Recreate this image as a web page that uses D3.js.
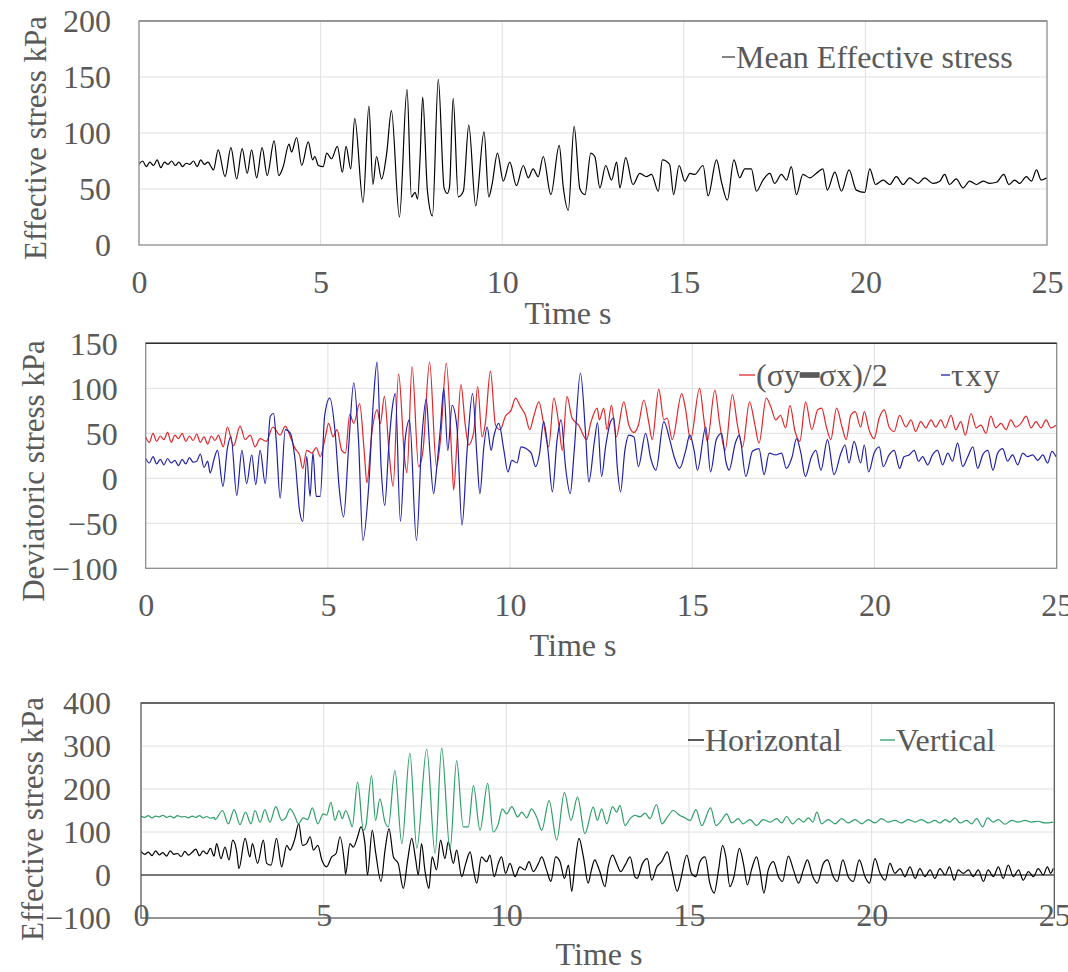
<!DOCTYPE html>
<html>
<head>
<meta charset="utf-8">
<script src="https://cdn.jsdelivr.net/npm/d3@7"></script>
<style>
  html, body { margin: 0; padding: 0; background: #fff; }
  svg { display: block; }
</style>
</head>
<body>
<svg id="chart" width="1068" height="972"></svg>
<script>
// ---- Data: time (s) / stress (kPa) pairs ----
const timeTicks = [0, 5, 10, 15, 20, 25];

const meanTicks = [0, 50, 100, 150, 200];
const deviatoricTicks = [-100, -50, 0, 50, 100, 150];
const componentTicks = [-100, 0, 100, 200, 300, 400];

// Mean effective stress
const meanStress = [
  [0,72],[0.1,75],[0.2,70],[0.3,74],[0.4,71],[0.5,76],[0.6,69],[0.7,74],[0.8,72],[0.9,75],[1.0,71],[1.1,74],[1.2,70],[1.3,73],[1.4,72],[1.5,75],[1.6,70],[1.7,76],[1.8,72],[1.9,74],[2.0,69],
  [2.05,67],[2.18,85],[2.37,61],[2.53,87],[2.69,59],[2.84,86],[2.98,64],[3.10,85],[3.24,60],[3.39,87],[3.53,62],[3.72,93],[3.85,62],[3.97,70],[4.13,90],[4.20,83],[4.34,96],[4.48,71],[4.66,92],[4.78,76],[4.84,79],[4.94,71],
  [5.07,70],[5.17,82],[5.30,77],[5.46,88],[5.60,65],[5.70,88],[5.83,68],[5.94,113],[6.17,38],[6.33,124],[6.44,54],[6.54,79],[6.68,59],[6.82,82],[6.95,120],[7.17,25],[7.38,139],[7.50,43],[7.60,47],[7.67,41],[7.74,79],[7.81,132],[7.94,49],
  [8.08,26],[8.24,148],[8.40,51],[8.49,46],[8.55,52],[8.65,131],[8.79,43],[8.93,48],[9.08,107],[9.27,35],[9.50,101],[9.63,43],[9.72,54],[9.87,82],[10.03,57],[10.21,74],[10.39,53],[10.58,71],[10.72,60],[10.85,68],[10.99,61],
  [11.13,79],[11.34,45],[11.57,89],[11.68,52],[11.82,31],[11.98,106],[12.14,50],[12.28,45],[12.44,82],[12.55,79],[12.69,51],[12.85,71],[13.01,58],[13.15,74],[13.24,51],[13.40,78],[13.60,54],[13.79,64],[13.97,61],
  [14.11,63],[14.30,48],[14.41,76],[14.61,72],[14.72,45],[14.87,71],[15.03,57],[15.17,64],[15.30,63],[15.53,71],[15.67,44],[15.90,76],[16.04,56],[16.20,40],[16.38,76],[16.54,60],[16.68,68],[16.86,68],[17.00,48],
  [17.18,58],[17.37,64],[17.50,55],[17.69,63],[17.83,58],[17.96,70],[18.10,45],[18.28,63],[18.47,60],[18.65,64],[18.83,68],[18.95,49],[19.16,65],[19.34,48],[19.55,67],[19.75,49],[19.98,47],[20.12,68],[20.28,54],
  [20.49,58],[20.67,54],[20.85,61],[21.04,54],[21.22,60],[21.45,55],[21.63,60],[21.86,55],[22.05,57],[22.18,63],[22.32,54],[22.50,59],[22.69,51],[22.87,57],[23.06,54],[23.24,57],[23.42,55],[23.61,56],[23.81,63],
  [23.95,54],[24.11,58],[24.25,55],[24.43,61],[24.57,57],[24.71,67],[24.84,58],[25.0,60]
];

// (σy − σx)/2
const halfDiffStress = [
  [0,46],[0.1,40],[0.2,50],[0.3,41],[0.4,47],[0.5,43],[0.6,51],[0.7,40],[0.8,48],[0.9,44],[1.0,50],[1.1,41],[1.2,47],[1.3,42],[1.4,49],[1.5,40],[1.6,46],[1.7,38],[1.8,47],[1.9,42],[2.0,48],
  [2.04,44],[2.13,35],[2.24,57],[2.41,36],[2.59,58],[2.73,43],[2.87,48],[3.00,35],[3.14,44],[3.31,41],[3.49,57],[3.69,48],[3.83,58],[3.97,46],[4.10,33],[4.22,26],[4.31,11],[4.42,31],[4.56,28],[4.68,34],[4.79,24],[4.93,46],
  [5.02,61],[5.14,46],[5.25,54],[5.38,31],[5.48,28],[5.60,71],[5.71,61],[5.87,83],[6.00,28],[6.07,-5],[6.21,52],[6.35,76],[6.44,61],[6.55,91],[6.68,28],[6.79,-9],[6.94,116],[7.11,20],[7.17,6],[7.31,124],[7.49,13],
  [7.61,31],[7.79,129],[7.98,13],[8.09,43],[8.25,128],[8.41,15],[8.45,-13],[8.54,39],[8.65,104],[8.77,59],[8.86,37],[9.00,51],[9.11,102],[9.23,46],[9.32,61],[9.46,119],[9.60,59],[9.73,54],[9.87,69],[10.03,76],
  [10.15,89],[10.28,80],[10.42,70],[10.54,54],[10.65,69],[10.79,85],[10.92,61],[11.06,35],[11.20,89],[11.34,59],[11.43,31],[11.56,91],[11.70,67],[11.88,59],[12.10,43],[12.21,61],[12.39,78],[12.45,65],[12.57,78],
  [12.66,54],[12.78,81],[12.91,46],[13.12,85],[13.26,59],[13.40,51],[13.52,59],[13.67,87],[13.81,61],[13.90,43],[14.08,99],[14.22,65],[14.31,67],[14.45,43],[14.71,94],[14.81,78],[14.95,43],[15.20,100],[15.32,65],
  [15.41,41],[15.62,98],[15.75,61],[15.90,31],[16.10,93],[16.24,59],[16.38,35],[16.57,85],[16.72,59],[16.83,39],[17.03,89],[17.15,80],[17.29,65],[17.42,70],[17.56,56],[17.68,81],[17.82,52],[17.95,41],[18.11,85],
  [18.28,54],[18.44,76],[18.55,78],[18.68,57],[18.80,43],[18.96,78],[19.11,57],[19.22,43],[19.35,70],[19.47,74],[19.62,57],[19.72,74],[19.85,54],[19.99,44],[20.13,67],[20.27,76],[20.40,57],[20.54,52],[20.69,70],
  [20.86,57],[21.00,65],[21.13,52],[21.27,63],[21.41,56],[21.55,65],[21.68,57],[21.82,65],[21.94,56],[22.10,70],[22.23,54],[22.37,63],[22.49,48],[22.65,72],[22.79,56],[22.92,59],[23.06,50],[23.19,69],[23.33,56],
  [23.47,61],[23.61,54],[23.74,65],[23.88,57],[24.02,61],[24.16,69],[24.30,56],[24.43,63],[24.57,56],[24.71,65],[24.84,56],[24.98,59]
];

// τxy
const shearStress = [
  [0,22],[0.1,17],[0.2,24],[0.3,16],[0.4,21],[0.5,15],[0.6,22],[0.7,17],[0.8,20],[0.9,14],[1.0,21],[1.1,16],[1.2,23],[1.3,18],[1.4,19],[1.5,27],[1.6,12],[1.7,19],
  [1.77,6],[1.88,22],[1.97,31],[2.12,-9],[2.24,33],[2.34,46],[2.50,-19],[2.64,31],[2.77,-6],[2.91,26],[3.02,-7],[3.14,31],[3.28,-6],[3.42,69],[3.51,72],[3.58,43],[3.69,-22],[3.83,54],[3.97,50],[4.10,20],[4.22,-35],
  [4.31,-48],[4.42,24],[4.51,-20],[4.59,28],[4.68,-20],[4.79,-20],[4.91,69],[5.05,89],[5.20,50],[5.31,-11],[5.43,-43],[5.57,35],[5.71,106],[5.84,43],[5.96,-69],[6.12,-9],[6.25,87],[6.35,129],[6.46,13],[6.56,-30],
  [6.67,35],[6.76,76],[6.85,94],[6.99,-48],[7.12,43],[7.24,65],[7.43,-69],[7.58,46],[7.70,88],[7.79,35],[7.90,-17],[7.99,13],[8.09,57],[8.18,100],[8.29,31],[8.41,81],[8.54,57],[8.68,-52],[8.82,31],[8.97,94],
  [9.09,24],[9.17,-17],[9.28,35],[9.37,57],[9.48,31],[9.55,46],[9.69,61],[9.83,31],[9.94,7],[10.05,20],[10.19,17],[10.30,35],[10.44,33],[10.58,28],[10.70,13],[10.81,28],[10.92,63],[11.04,31],[11.16,-15],
  [11.29,43],[11.40,65],[11.52,13],[11.65,-17],[11.76,31],[11.93,117],[12.07,50],[12.16,-4],[12.32,43],[12.40,62],[12.51,2],[12.62,35],[12.76,63],[12.85,67],[12.94,13],[13.03,-15],[13.15,31],[13.26,48],[13.40,46],
  [13.52,13],[13.72,50],[13.86,22],[14.00,9],[14.22,63],[14.38,43],[14.50,24],[14.65,11],[14.82,31],[14.93,48],[15.05,31],[15.14,9],[15.37,57],[15.50,7],[15.66,43],[15.80,50],[15.93,17],[16.01,9],[16.18,39],
  [16.29,48],[16.47,2],[16.65,30],[16.83,33],[16.97,4],[17.11,28],[17.29,26],[17.45,28],[17.58,11],[17.74,24],[17.86,44],[17.98,28],[18.10,2],[18.27,24],[18.39,31],[18.53,9],[18.71,43],[18.89,4],[19.08,28],
  [19.19,37],[19.30,17],[19.44,41],[19.62,17],[19.72,37],[19.84,7],[19.99,28],[20.13,35],[20.24,13],[20.40,26],[20.54,31],[20.69,11],[20.81,24],[20.95,26],[21.09,31],[21.21,19],[21.32,24],[21.46,15],[21.59,26],
  [21.73,31],[21.87,15],[22.01,28],[22.14,19],[22.28,39],[22.42,13],[22.56,24],[22.70,35],[22.83,11],[22.97,26],[23.11,31],[23.25,9],[23.38,28],[23.52,33],[23.65,19],[23.79,26],[23.93,15],[24.07,28],[24.20,24],
  [24.34,26],[24.48,20],[24.62,26],[24.75,17],[24.87,30],[24.98,24]
];

// Horizontal effective stress
const horizontalStress = [
  [0,55],[0.1,48],[0.2,53],[0.3,45],[0.4,56],[0.5,47],[0.6,52],[0.7,44],[0.8,56],[0.9,48],[1.0,50],[1.1,43],[1.2,55],[1.3,46],[1.4,53],[1.5,60],[1.6,45],[1.7,56],[1.8,49],[1.9,62],[2.0,44],
  [2.07,73],[2.19,38],[2.30,65],[2.41,35],[2.51,81],[2.62,54],[2.68,15],[2.85,85],[2.98,42],[3.05,73],[3.19,27],[3.35,81],[3.44,27],[3.56,23],[3.71,85],[3.85,19],[3.99,69],[4.08,58],[4.20,81],[4.32,119],
  [4.42,69],[4.53,73],[4.63,89],[4.72,58],[4.84,69],[4.95,35],[5.08,19],[5.22,42],[5.34,50],[5.45,89],[5.57,27],[5.60,2],[5.72,73],[5.81,65],[5.93,89],[6.02,112],[6.13,73],[6.20,0],[6.33,104],[6.42,54],
  [6.57,-15],[6.68,58],[6.79,108],[6.91,42],[7.04,27],[7.18,-31],[7.30,35],[7.41,85],[7.52,35],[7.59,0],[7.68,73],[7.77,12],[7.88,-31],[7.97,42],[8.09,12],[8.20,81],[8.32,38],[8.41,77],[8.55,27],[8.64,58],
  [8.78,-4],[8.89,27],[9.01,54],[9.10,12],[9.19,-19],[9.32,42],[9.46,31],[9.55,46],[9.67,-4],[9.78,27],[9.87,42],[9.98,4],[10.10,27],[10.24,-4],[10.37,19],[10.51,12],[10.62,31],[10.74,8],[10.88,27],[10.97,42],
  [11.10,12],[11.22,-15],[11.35,42],[11.47,31],[11.59,-8],[11.70,23],[11.79,-38],[11.88,27],[11.99,85],[12.11,42],[12.24,-19],[12.33,12],[12.42,35],[12.50,22],[12.56,8],[12.70,-27],[12.79,19],[12.91,46],
  [13.02,27],[13.13,8],[13.25,23],[13.39,42],[13.52,-4],[13.58,-8],[13.73,27],[13.86,38],[13.98,-12],[14.12,19],[14.25,31],[14.41,54],[14.53,12],[14.68,-38],[14.77,-12],[14.94,46],[15.07,4],[15.19,-4],[15.30,31],
  [15.44,42],[15.57,-19],[15.69,-42],[15.81,12],[15.92,69],[16.01,42],[16.12,-27],[16.23,-4],[16.38,62],[16.49,27],[16.60,-23],[16.71,12],[16.85,42],[16.94,12],[17.05,-42],[17.17,12],[17.31,31],[17.45,-4],
  [17.56,-15],[17.72,44],[17.86,12],[18.00,-19],[18.13,12],[18.24,35],[18.39,-4],[18.51,-19],[18.68,27],[18.79,35],[18.95,-4],[19.06,-15],[19.21,35],[19.36,-4],[19.50,-15],[19.66,35],[19.82,-4],[19.94,-19],
  [20.09,38],[20.23,4],[20.37,-12],[20.50,27],[20.64,4],[20.78,15],[20.91,-4],[21.05,19],[21.19,-8],[21.32,15],[21.46,-4],[21.60,12],[21.73,-8],[21.87,15],[22.01,0],[22.13,19],[22.26,-12],[22.37,12],[22.51,4],
  [22.65,12],[22.78,-4],[22.92,12],[23.06,-15],[23.19,12],[23.33,-4],[23.47,19],[23.60,-8],[23.74,23],[23.88,-4],[24.02,12],[24.15,-12],[24.29,8],[24.43,-4],[24.56,15],[24.70,0],[24.81,19],[24.90,4],[24.97,15]
];

// Vertical effective stress
const verticalStress = [
  [0,137],[0.1,134],[0.2,138],[0.3,133],[0.4,137],[0.5,135],[0.6,139],[0.7,134],[0.8,137],[0.9,133],[1.0,138],[1.1,135],[1.2,136],[1.3,133],[1.4,137],[1.5,134],[1.6,138],[1.7,133],[1.8,136],[1.9,132],[2.0,134],
  [2.03,129],[2.23,150],[2.39,119],[2.55,152],[2.71,117],[2.86,146],[3.01,119],[3.12,150],[3.26,123],[3.39,152],[3.53,123],[3.69,159],[3.85,127],[3.96,133],[4.08,154],[4.20,139],[4.31,119],[4.44,133],[4.56,129],
  [4.69,156],[4.84,119],[4.99,142],[5.08,139],[5.20,169],[5.31,127],[5.42,150],[5.51,131],[5.60,150],[5.72,127],[5.78,112],[5.93,216],[6.09,104],[6.15,112],[6.31,231],[6.42,127],[6.54,177],[6.68,123],[6.77,112],
  [6.95,243],[7.14,73],[7.36,283],[7.55,62],[7.82,293],[8.05,50],[8.23,295],[8.46,58],[8.64,266],[8.82,112],[8.96,112],[9.10,208],[9.28,104],[9.49,213],[9.64,100],[9.78,119],[9.89,154],[10.01,142],[10.15,159],
  [10.31,135],[10.42,146],[10.56,133],[10.69,154],[10.83,135],[10.97,104],[11.17,173],[11.38,81],[11.59,192],[11.77,127],[11.95,181],[12.15,96],[12.38,158],[12.49,127],[12.61,154],[12.75,119],[12.91,159],
  [13.02,146],[13.11,162],[13.25,115],[13.39,131],[13.52,139],[13.66,135],[13.80,144],[13.93,131],[14.11,164],[14.26,119],[14.41,135],[14.57,150],[14.74,139],[14.89,133],[15.03,127],[15.19,152],[15.35,115],
  [15.59,156],[15.74,115],[15.89,127],[16.03,142],[16.17,121],[16.35,131],[16.48,119],[16.67,129],[16.85,115],[17.03,129],[17.22,123],[17.40,131],[17.54,121],[17.67,136],[17.84,119],[18.00,131],[18.14,123],
  [18.27,133],[18.39,123],[18.50,146],[18.63,119],[18.81,129],[19.00,119],[19.18,131],[19.36,121],[19.54,129],[19.73,119],[19.91,129],[20.09,121],[20.27,131],[20.45,123],[20.64,127],[20.82,121],[21.00,129],
  [21.19,123],[21.37,129],[21.55,121],[21.73,127],[21.87,121],[22.01,129],[22.14,123],[22.28,133],[22.42,121],[22.60,127],[22.74,119],[22.87,131],[23.04,112],[23.17,133],[23.33,123],[23.47,129],[23.65,118],
  [23.83,127],[24.01,123],[24.20,127],[24.38,123],[24.56,125],[24.74,121],[24.97,123]
];

// ---- Drawing ----
const FONT = "'Times New Roman', 'Liberation Serif', serif";
const TEXT = "#595959";
const TICK_SIZE = "32px";
const TITLE_SIZE = "31px";
const svg = d3.select("#chart");

const panels = [
  {
    id: "p1", left: 139, right: 1047, top: 21, bottom: 245,
    domain: [0, 200], yTicks: meanTicks,
    yTitle: "Effective stress kPa", yTitleX: 35, yTitleY: 138,
    labelPad: 28, xLabelY: 48, xTitleX: 568, xTitleY: 324,
    border: "#8c8c8c", borderTop: "#8c8c8c", zeroLine: false,
    series: [{ data: meanStress, color: "#000000" }],
    legend: [{ x: 722, y: 68, mark: 13, color: "#404040", text: "Mean Effective stress" }]
  },
  {
    id: "p2", left: 145.7, right: 1056.7, top: 343.3, bottom: 568.3,
    domain: [-100, 150], yTicks: deviatoricTicks,
    yTitle: "Deviatoric stress kPa", yTitleX: 33, yTitleY: 471,
    labelPad: 28, xLabelY: 48, xTitleX: 573, xTitleY: 656,
    border: "#8c8c8c", borderTop: "#303030", zeroLine: false,
    series: [
      { data: halfDiffStress, color: "#e0262a" },
      { data: shearStress, color: "#2020a6" }
    ],
    legend: [
      { x: 739, y: 386, mark: 16, color: "#e0262a", text: "(σy━σx)/2" },
      { x: 941, y: 386, mark: 9, color: "#2020a6", text: "τxy", spacing: 2 }
    ]
  },
  {
    id: "p3", left: 141, right: 1054.3, top: 703, bottom: 918,
    domain: [-100, 400], yTicks: componentTicks,
    yTitle: "Effective stress kPa", yTitleX: 32, yTitleY: 819,
    labelPad: 30, xLabelY: 8, xTitleX: 599, xTitleY: 965,
    border: "#595959", borderTop: "#595959", zeroLine: true,
    series: [
      { data: horizontalStress, color: "#000000" },
      { data: verticalStress, color: "#2e9e68" }
    ],
    legend: [
      { x: 688, y: 751, mark: 16, color: "#000000", text: "Horizontal" },
      { x: 880, y: 751, mark: 15, color: "#2e9e68", text: "Vertical" }
    ]
  }
];

panels.forEach(p => {
  const x = d3.scaleLinear().domain([0, 25]).range([p.left, p.right]);
  const y = d3.scaleLinear().domain(p.domain).range([p.bottom, p.top]);
  const g = svg.append("g").attr("class", p.id);

  // grid
  g.append("g").selectAll("line")
    .data(p.yTicks.filter(v => v !== p.domain[0] && v !== p.domain[1] && !(p.zeroLine && v === 0)))
    .join("line")
    .attr("x1", p.left).attr("x2", p.right)
    .attr("y1", d => y(d)).attr("y2", d => y(d))
    .attr("stroke", "#e0e0e0").attr("stroke-width", 1);
  g.append("g").selectAll("line")
    .data(timeTicks.filter(v => v > 0 && v < 25))
    .join("line")
    .attr("x1", d => x(d)).attr("x2", d => x(d))
    .attr("y1", p.top).attr("y2", p.bottom)
    .attr("stroke", "#e0e0e0").attr("stroke-width", 1);

  // clip
  const clipId = "clip-" + p.id;
  svg.append("clipPath").attr("id", clipId)
    .append("rect").attr("x", p.left).attr("y", p.top)
    .attr("width", p.right - p.left).attr("height", p.bottom - p.top);

  // zero line
  if (p.zeroLine) {
    g.append("line")
      .attr("x1", p.left).attr("x2", p.right)
      .attr("y1", y(0)).attr("y2", y(0))
      .attr("stroke", "#4a4a4a").attr("stroke-width", 1.6);
  }

  // series
  const line = d3.line().curve(d3.curveMonotoneX).x(d => x(d[0])).y(d => y(d[1]));
  p.series.forEach(s => {
    g.append("path")
      .datum(s.data)
      .attr("clip-path", `url(#${clipId})`)
      .attr("fill", "none")
      .attr("stroke", s.color)
      .attr("stroke-width", 1.2)
      .attr("stroke-linejoin", "round")
      .attr("d", line);
  });

  // border
  g.append("rect")
    .attr("x", p.left).attr("y", p.top)
    .attr("width", p.right - p.left).attr("height", p.bottom - p.top)
    .attr("fill", "none").attr("stroke", p.border).attr("stroke-width", 1.3);
  g.append("line")
    .attr("x1", p.left).attr("x2", p.right).attr("y1", p.top).attr("y2", p.top)
    .attr("stroke", p.borderTop).attr("stroke-width", 1.5);

  // y axis
  const yAxis = g.append("g")
    .attr("transform", `translate(${p.left},0)`)
    .call(d3.axisLeft(y).tickValues(p.yTicks).tickSize(0).tickPadding(p.labelPad).tickFormat(d3.format("d")));
  yAxis.select(".domain").remove();
  yAxis.selectAll("text")
    .attr("fill", TEXT).style("font-family", FONT).style("font-size", TICK_SIZE)
    .attr("dy", "0.34em");

  // x axis
  const xAxis = g.append("g")
    .attr("transform", `translate(0,${p.bottom})`)
    .call(d3.axisBottom(x).tickValues(timeTicks).tickSize(0).tickFormat(d3.format("d")));
  xAxis.select(".domain").remove();
  xAxis.selectAll("text")
    .attr("fill", TEXT).style("font-family", FONT).style("font-size", TICK_SIZE)
    .attr("y", p.xLabelY).attr("dy", null);

  // titles
  g.append("text")
    .attr("transform", `translate(${p.yTitleX},${p.yTitleY}) rotate(-90)`)
    .attr("text-anchor", "middle").attr("dominant-baseline", "central")
    .attr("fill", TEXT).style("font-family", FONT).style("font-size", TITLE_SIZE)
    .text(p.yTitle);
  g.append("text")
    .attr("x", p.xTitleX).attr("y", p.xTitleY)
    .attr("text-anchor", "middle")
    .attr("fill", TEXT).style("font-family", FONT).style("font-size", TICK_SIZE)
    .text("Time s");

  // legend
  p.legend.forEach(l => {
    g.append("line")
      .attr("x1", l.x).attr("x2", l.x + l.mark)
      .attr("y1", l.y - 11).attr("y2", l.y - 11)
      .attr("stroke", l.color).attr("stroke-width", 1.3);
    g.append("text")
      .attr("x", l.x + l.mark + 1).attr("y", l.y)
      .attr("fill", TEXT).style("font-family", FONT).style("font-size", TICK_SIZE)
      .style("letter-spacing", (l.spacing || 0) + "px")
      .text(l.text);
  });
});
</script>
</body>
</html>
